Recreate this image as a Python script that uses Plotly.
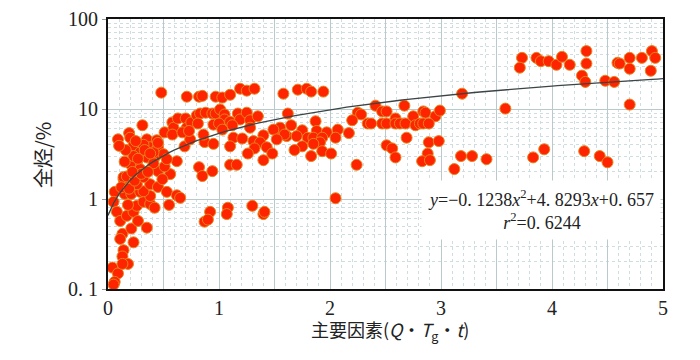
import plotly.graph_objects as go

# ---- data ----
x_vals = [
    3.73, 3.71, 3.86, 3.90, 3.97, 4.04, 4.09, 4.16, 4.31, 4.31, 4.27, 4.30, 4.48, 4.56, 4.59, 4.61,
    4.70, 4.70, 4.81, 4.90, 4.93, 4.89, 4.70, 3.58, 3.28, 3.41, 3.83, 3.93, 4.29, 4.43, 4.50,
    2.69, 2.89, 2.98, 2.88, 2.83, 2.90, 3.12, 3.18, 3.19,
    1.58, 1.71, 1.79, 1.83, 1.94, 2.41, 2.67, 1.62, 2.25, 2.28, 2.47, 2.51, 2.20, 2.34, 2.37, 2.47,
    2.51, 2.59, 2.59, 2.63, 2.68, 2.75, 2.84, 2.86, 2.95, 2.99, 2.77, 2.81, 2.84, 2.89, 1.65, 1.87,
    1.55, 1.75, 1.88, 1.97, 2.07, 2.17, 1.61, 1.70, 1.80, 1.85, 1.93, 2.05, 1.91, 1.85, 1.75, 1.68,
    1.93, 2.01, 1.83, 2.24, 2.51, 2.56, 2.59, 2.05,
    0.48, 0.71, 0.82, 0.85, 0.97, 1.03, 1.10, 1.19, 1.25, 1.32,
    0.31, 0.09, 0.19, 0.20, 0.23, 0.35, 0.38, 0.44, 0.45, 0.51, 0.58, 0.59, 0.63, 0.58, 0.70, 0.71,
    0.75, 0.80, 0.83, 0.88, 0.94, 0.97, 1.01, 1.05, 1.05, 0.81, 0.95, 1.00, 1.10, 1.17, 1.19, 1.12,
    1.25, 1.28, 1.28, 1.35, 1.13, 1.21, 1.10, 1.31, 1.40, 1.37, 1.32, 1.43, 1.48, 1.26, 1.40, 1.10,
    1.16, 0.82, 0.94, 0.85, 0.62, 0.56, 0.69, 0.87, 0.95, 0.74, 0.67, 0.73, 0.86, 1.03, 1.55, 1.49,
    1.59, 1.52,
    0.06, 0.14, 0.05, 0.08, 0.11, 0.13, 0.11, 0.14, 0.13, 0.04, 0.09, 0.06, 0.05, 0.18, 0.13, 0.23,
    0.21, 0.17, 0.23, 0.27, 0.35, 0.26, 0.32, 0.18, 0.15, 0.21, 0.29, 0.38, 0.42, 0.38, 0.32, 0.26,
    0.38, 0.45, 0.53, 0.62, 0.65, 0.55, 0.92, 0.87, 0.90, 1.08, 1.07, 1.30, 1.40, 1.41,
    0.14, 0.17, 0.32, 0.26, 0.20, 0.40, 0.45, 0.51, 0.49, 0.29, 0.35, 0.42, 0.50, 0.29, 0.53, 0.41,
    0.23, 0.15, 0.32, 0.41,
    0.12, 0.19, 0.24, 0.30, 0.36, 0.22, 0.27, 0.33, 0.38, 0.45, 0.25, 0.16, 0.10,
]
y_vals = [
    37, 28.8, 37, 34, 34, 31, 38, 31, 44, 32, 23.5, 20, 20.6, 20, 32.6, 32,
    37, 28, 37, 44, 37, 26.6, 11.2, 10.1, 3.0, 2.77, 2.9, 3.57, 3.4, 3.0, 2.56,
    4.8, 4.26, 4.4, 3.2, 2.63, 2.7, 2.15, 3.0, 14.8,
    14.8, 16.4, 16.8, 15.6, 15.6, 10.9, 10.9, 8.9, 9.1, 8.7, 9.4, 9.4, 7.5, 6.9, 6.9, 6.9,
    6.9, 7.85, 6.9, 6.9, 6.9, 8.3, 9.4, 9.1, 8.3, 9.6, 6.6, 6.9, 6.9, 6.9, 6.6, 7.3,
    5.9, 5.8, 5.7, 5.5, 5.9, 5.4, 5.0, 5.0, 4.8, 4.8, 4.8, 4.8, 4.26, 4.1, 3.85, 3.5,
    3.4, 3.2, 3.0, 2.4, 3.95, 3.65, 2.9, 1.02,
    15.2, 13.7, 13.7, 14.0, 13.7, 13.4, 14.4, 16.8, 16.0, 16.8,
    6.6, 4.6, 5.4, 4.8, 3.95, 4.6, 3.76, 4.5, 3.76, 5.5, 7.1, 6.2, 7.85, 5.2, 7.85, 6.2,
    7.1, 8.5, 8.9, 9.1, 8.9, 8.9, 9.9, 8.7, 7.65, 6.9, 6.7, 6.9, 7.2, 8.9, 7.65, 6.6,
    9.1, 7.5, 6.2, 8.3, 4.8, 4.7, 3.85, 4.4, 5.1, 4.26, 3.65, 3.76, 3.2, 3.2, 2.7, 2.4,
    2.4, 2.26, 2.04, 1.8, 2.63, 1.89, 3.85, 4.3, 4.1, 4.6, 5.5, 5.7, 5.2, 5.9, 6.2, 5.9,
    5.2, 4.6,
    1.2, 1.66, 0.93, 0.72, 0.57, 0.41, 0.36, 0.27, 0.23, 0.173, 0.149, 0.12, 0.112, 0.19, 0.19, 0.33,
    0.47, 0.65, 0.72, 0.57, 0.48, 0.84, 0.93, 0.86, 1.14, 1.14, 1.2, 0.88, 0.8, 1.08, 1.22, 1.46,
    1.46, 1.36, 1.2, 1.1, 1.03, 0.86, 0.72, 0.56, 0.59, 0.8, 0.68, 0.84, 0.68, 0.72,
    1.75, 1.78, 1.75, 2.56, 2.45, 2.26, 2.04, 2.3, 1.66, 2.15, 2.9, 2.9, 3.15, 3.3, 2.77, 2.5,
    3.0, 2.6, 4.0, 3.3,
    1.35, 1.3, 1.6, 1.9, 2.0, 2.0, 2.8, 3.5, 3.2, 4.2, 4.4, 3.5, 3.9,
]

# fitted trend line coefficients (as printed on the chart)
fit_a, fit_b, fit_c = -0.1238, 4.8293, 0.657
fit_x = [i * 0.05 for i in range(0, 101)]
fit_y = [fit_a * v * v + fit_b * v + fit_c for v in fit_x]

x_ticks = [0, 0.5, 1, 1.5, 2, 2.5, 3, 3.5, 4, 4.5, 5]
x_ticktext = ["0", "", "1", "", "2", "", "3", "", "4", "", "5"]
y_ticks = [0.1, 1, 10, 100]
y_ticktext = ["0. 1", "1", "10", "100"]
y_minor = [k * m for m in (0.1, 1, 10) for k in range(2, 10)]

NUM_FONT = "Liberation Serif, DejaVu Serif, Noto Sans CJK SC"

# plot-area pixel box in the page (the page body adds an 8px offset)
L, R, T, B = 100, 45, 11, 79
PW, PH = 700 - L - R, 360 - T - B

fig = go.Figure()
fig.add_trace(go.Scatter(
    x=x_vals, y=y_vals, mode="markers",
    marker=dict(size=11, color="#ff2400", line=dict(color="#e8841e", width=1)),
    showlegend=False,
))
fig.add_trace(go.Scatter(
    x=fit_x, y=fit_y, mode="lines",
    line=dict(color="#3c4446", width=1.3),
    showlegend=False,
))

fig.update_layout(
    width=700, height=360,
    margin=dict(l=L, r=R, t=T, b=B),
    paper_bgcolor="white", plot_bgcolor="white",
    font=dict(family=NUM_FONT, size=20, color="#222"),
    xaxis=dict(
        range=[0, 5], tickmode="array", tickvals=x_ticks, ticktext=x_ticktext,
        showgrid=True, gridcolor="#b9c9cc", gridwidth=1,
        minor=dict(dtick=0.1, showgrid=True, gridcolor="#cfdde0", griddash="dot", gridwidth=1),
        showline=True, linecolor="#111", linewidth=2, mirror=True,
        ticks="", zeroline=False, tickfont=dict(size=20), automargin=False,
        ticklabeloverflow="allow",
    ),
    yaxis=dict(
        type="log", range=[-1, 2], tickmode="array", tickvals=y_ticks, ticktext=y_ticktext,
        showgrid=True, gridcolor="#b9c9cc", gridwidth=1,
        minor=dict(tickmode="array", tickvals=y_minor, showgrid=True,
                   gridcolor="#cfdde0", griddash="dot", gridwidth=1),
        showline=True, linecolor="#111", linewidth=2, mirror=True,
        ticks="outside", ticklen=4, tickcolor="#999", zeroline=False,
        tickfont=dict(size=20), automargin=False, ticklabeloverflow="allow",
    ),
    annotations=[
        dict(
            xref="paper", yref="paper", x=(533 - 100) / PW, y=(281 - 202) / PH,
            xanchor="center", yanchor="middle", showarrow=False,
            text="<i>y</i>=−0. 1238<i>x</i><sup>2</sup>+4. 8293<i>x</i>+0. 657<br><i>r</i><sup>2</sup>=0. 6244",
            font=dict(family=NUM_FONT, size=18, color="#222"),
            bgcolor="white", borderpad=6, align="center",
        ),
        dict(
            xref="paper", yref="paper", x=(34 - 100) / PW, y=(281 - 147) / PH,
            xanchor="center", yanchor="middle", showarrow=False, textangle=-90,
            text="全烃/%",
            font=dict(family="Noto Sans CJK SC", size=20, color="#222"),
        ),
        dict(
            xref="paper", yref="paper", x=(382 - 100) / PW, y=(281 - 322) / PH,
            xanchor="center", yanchor="middle", showarrow=False,
            text="主要因素(<i>Q</i>•<i>T</i><sub>g</sub>•<i>t</i>)",
            font=dict(family="Noto Sans CJK SC, Liberation Serif", size=18, color="#222"),
        ),
    ],
)

fig.write_html("out.html")
